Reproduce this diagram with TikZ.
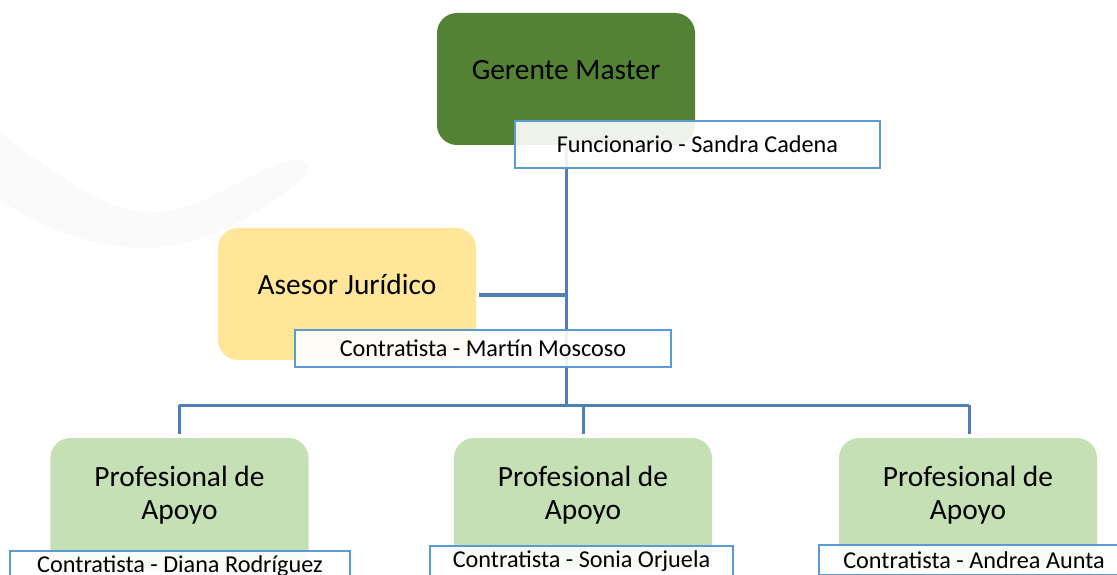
\documentclass[tikz,border=0pt]{standalone}
\usepackage{fontspec}
\setmainfont{Carlito}
\definecolor{gmgreen}{HTML}{548235}
\definecolor{ajyellow}{HTML}{FFE699}
\definecolor{pagreen}{HTML}{C5E0B4}
\definecolor{lblblue}{HTML}{5B9BD5}
\definecolor{linkblue}{HTML}{4F7FB8}
\definecolor{wmgray}{HTML}{FAFAFA}
\begin{document}
\begin{tikzpicture}[x=1bp,y=-1bp,
  rolebox/.style={draw=none,rounded corners=20bp,minimum width=258bp,minimum height=132bp,inner sep=0pt},
  roletext/.style={font=\fontsize{29.5}{32.5}\selectfont,align=center,inner sep=0pt},
  lblbox/.style={draw=lblblue,line width=2bp,fill=white,fill opacity=0.9,text opacity=1,inner sep=0pt,font=\fontsize{24.3}{28}\selectfont},
  link/.style={draw=linkblue,line width=3bp}]
\useasboundingbox (0,0) rectangle (1117,575);
\clip (0,0) rectangle (1117,575);
% faint watermark
\fill[wmgray] (0,133) .. controls (60,175) and (100,210) .. (150,212) .. controls (200,214) and (250,170) .. (290,160)
  .. controls (305,158) and (312,165) .. (307,174) .. controls (270,210) and (200,250) .. (140,248) .. controls (80,246) and (30,220) .. (0,200) -- cycle;
% boxes
\node[rolebox,fill=gmgreen] (gm) at (566,79) {};
\node[rolebox,fill=ajyellow] (aj) at (347,294) {};
\node[rolebox,fill=pagreen] (pa1) at (179.5,504) {};
\node[rolebox,fill=pagreen] (pa2) at (583,504) {};
\node[rolebox,fill=pagreen] (pa3) at (968,504) {};
% connectors
\coordinate (j1) at (566,295);
\coordinate (j2) at (566,405);
\coordinate (b1) at (179,405);
\coordinate (b2) at (583,405);
\coordinate (b3) at (969,405);
\coordinate (ajr) at (479,295);
\draw[link] (gm.south) -- (j1) -- (j2);
\draw[link] (ajr) -- (j1);
\draw[link] (b1) -- (b3);
\draw[link] (b1) -- (179,434);
\draw[link] (b2) -- (583,434);
\draw[link] (b3) -- (969,434);
% texts
\node[roletext] (gmt) at (566,70) {Gerente Master};
\node[roletext] (ajt) at (347,284) {Asesor Jurídico};
\node[roletext] (pat1) at (179.5,495) {Profesional de\\Apoyo};
\node[roletext] (pat2) at (583,495) {Profesional de\\Apoyo};
\node[roletext] (pat3) at (968,495) {Profesional de\\Apoyo};
% labels
\node[lblbox,minimum width=365bp,minimum height=47bp] (l0) at (697.5,144.5) {Funcionario - Sandra Cadena};
\node[lblbox,minimum width=376bp,minimum height=37bp] (l1) at (483,348.5) {Contratista - Martín Moscoso};
\node[lblbox,minimum width=340bp,minimum height=30bp,anchor=north] (l2) at (180,550) {\raisebox{2bp}{Contratista - Diana Rodríguez}};
\node[lblbox,minimum width=303bp,minimum height=30bp,anchor=north] (l3) at (581.5,545) {Contratista - Sonia Orjuela};
\node[lblbox,minimum width=310bp,minimum height=30bp,anchor=north west] (l4) at (818,544) {Contratista - Andrea Aunta};
\end{tikzpicture}
\end{document}
